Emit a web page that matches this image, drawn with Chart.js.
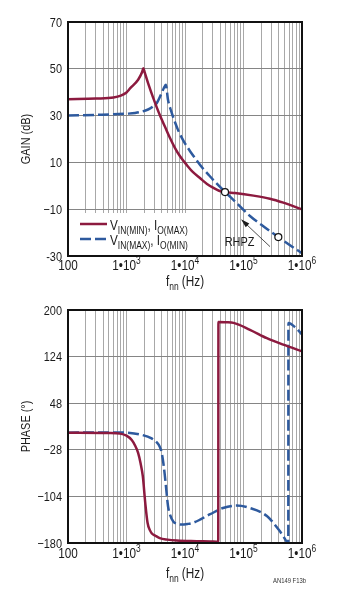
<!DOCTYPE html>
<html>
<head>
<meta charset="utf-8">
<script src="https://cdn.jsdelivr.net/npm/chart.js@4.4.1/dist/chart.umd.min.js"></script>
<style>
  html, body { margin: 0; padding: 0; background: #fff; }
  #page { position: relative; width: 340px; height: 597px; overflow: hidden; }
  .box { position: absolute; left: 0; width: 340px; }
  #gainBox { top: 0; height: 298px; }
  #phaseBox { top: 298px; height: 299px; }
</style>
</head>
<body>
<div id="page">
  <div class="box" id="gainBox"><canvas id="gainChart"></canvas></div>
  <div class="box" id="phaseBox"><canvas id="phaseChart"></canvas></div>
</div>
<script>
const FONT = '"Liberation Sans", Arial, sans-serif';
const NARROW = 0.84;   // horizontal squeeze for a condensed look
const INK = '#1b1b1b';
const RED = '#8c1a3f';
const BLUE = '#2e5a9e';

// frequency axis, shared by both plots
const freqTicks = [100, 1e3, 1e4, 1e5, 1e6];
const freqTickLabels = ['100', '1\u202210^{3}', '1\u202210^{4}', '1\u202210^{5}', '1\u202210^{6}'];
const freqTitle = 'f_{nn} (Hz)';

const gainTicks = [-30, -10, 10, 30, 50, 70];
const gainTickLabels = ['-30', '\u221210', '10', '30', '50', '70'];
const phaseTicks = [-180, -104, -28, 48, 124, 200];
const phaseTickLabels = ['\u2212180', '\u2212104', '\u221228', '48', '124', '200'];

const seriesNames = ['V_{IN(MIN)}, I_{O(MAX)}', 'V_{IN(MAX)}, I_{O(MIN)}'];

// loop gain, VIN(MIN) / IO(MAX)
const gainFreqA = [100, 300, 600, 800, 1000, 1150, 1580, 1850, 1940, 2040, 2400, 2840, 3740, 4550, 5540, 6750,
  8220, 10800, 13700, 18000, 23800, 30100, 38100, 48300, 71600, 148000, 282000, 479000, 1000000];
const gainA = [37.0, 37.3, 37.7, 38.5, 39.9, 41.6, 45.3, 48.6, 50.2, 48.6, 43.0, 37.8, 30.0, 25.2, 20.4, 16.1,
  12.6, 8.8, 5.8, 3.3, 0.8, -0.8, -2.1, -2.7, -3.1, -4.2, -5.5, -7.2, -10.1];

// loop gain, VIN(MAX) / IO(MIN)
const gainFreqB = [100, 300, 1000, 1400, 2340, 2800, 3300, 4000, 4350, 4700, 5120, 5770, 6490, 7590, 8880,
  10400, 12200, 15400, 19500, 24700, 32600, 48300, 71600, 129000, 233000, 394000, 624000, 1000000];
const gainB = [30.0, 30.3, 30.8, 31.1, 32.6, 33.8, 35.4, 39.7, 41.8, 43.2, 36.8, 32.1, 28.3, 23.9, 20.4,
  17.4, 14.8, 11.3, 7.9, 5.0, 1.7, -2.6, -6.7, -12.9, -17.8, -21.9, -25.4, -28.8];

// crossover point and right half plane zero
const markerFreq = [48300, 394000];
const markerGain = [-2.7, -21.9];
const rhpzLabel = [85500, -25.7];
const arrowTail = [284000, -26.0];
const arrowTip = [90600, -14.3];

// phase, VIN(MIN) / IO(MAX)
const phaseFreqA = [100, 500, 776, 1000, 1230, 1400, 1580, 1740, 1900, 2090, 2290, 2510, 2690, 3160, 3700, 5000,
  7240, 15800, 27000, 37000, 37300, 50000, 67600, 129000, 251000, 479000, 1000000];
const phaseA = [0, -0.5, -1.6, -5, -12, -21, -33, -50, -71, -114, -147, -159, -164, -168.5, -172, -174.5,
  -176, -177, -177.5, -178, 180.5, 180, 179, 167.7, 154, 143.4, 132.5];

// phase, VIN(MAX) / IO(MIN)
const phaseFreqB = [100, 800, 1000, 1700, 2690, 3300, 3700, 4000, 4270, 4500, 4730, 5130, 5600, 6300, 7500, 8700,
  11000, 13800, 26900, 44700, 75900, 129000, 251000, 398000, 480000, 550000, 583000, 586000, 800000, 1000000];
const phaseB = [0, 0.3, 0, -3, -9.5, -16, -23, -33, -50, -68, -88, -120, -135, -145, -149, -150,
  -149, -147, -133, -123, -119, -123, -136, -158, -169, -178, -180, 179, 170, 160];

// 1..9 per decade for the log grid
const gridFreqs = [];
for (let d = 100; d < 1e6; d *= 10) for (let m = 1; m < 10; m++) gridFreqs.push(d * m);
gridFreqs.push(1e6);

const toPoints = (xs, ys) => xs.map((x, i) => ({ x: x, y: ys[i] }));

// text with _{sub} and ^{sup} runs
function richParts(str) {
  const parts = [];
  const re = /([_^])\{([^}]*)\}/g;
  let last = 0, m;
  while ((m = re.exec(str))) {
    if (m.index > last) parts.push({ t: str.slice(last, m.index), k: '' });
    parts.push({ t: m[2], k: m[1] });
    last = re.lastIndex;
  }
  if (last < str.length) parts.push({ t: str.slice(last), k: '' });
  return parts;
}

// draws squeezed text; align is left / center / right, mid centres it vertically
function drawRich(ctx, str, x, y, size, align, mid) {
  const parts = richParts(str);
  const fontFor = p => (p.k ? size * 0.72 : size) + 'px ' + FONT;
  let w = 0;
  for (const p of parts) { ctx.font = fontFor(p); p.w = ctx.measureText(p.t).width; w += p.w; }
  let cx = align === 'center' ? -w / 2 : align === 'right' ? -w : 0;
  ctx.save();
  ctx.translate(x, y + (mid ? size * 0.36 : 0));
  ctx.scale(NARROW, 1);
  ctx.textAlign = 'left';
  ctx.textBaseline = 'alphabetic';
  for (const p of parts) {
    ctx.font = fontFor(p);
    const dy = p.k === '_' ? size * 0.26 : p.k === '^' ? -size * 0.4 : 0;
    ctx.fillText(p.t, cx, dy);
    cx += p.w;
  }
  ctx.restore();
}

const decor = {
  id: 'decor',
  beforeDatasetsDraw(chart, args, opts) {
    if (!opts.legend) return;
    const { ctx, chartArea: a } = chart;
    ctx.save();
    ctx.fillStyle = '#fff';
    ctx.fillRect(a.left, a.bottom - 43, 132, 43);
    ctx.restore();
  },
  afterDraw(chart, args, opts) {
    const { ctx, chartArea: a } = chart;
    const xs = chart.scales.x, ys = chart.scales.y;
    const px = f => xs.getPixelForValue(f), py = v => ys.getPixelForValue(v);
    ctx.save();

    ctx.strokeStyle = '#111';
    ctx.lineWidth = 2;
    ctx.strokeRect(a.left, a.top, a.right - a.left, a.bottom - a.top);

    ctx.fillStyle = INK;
    freqTicks.forEach((f, i) => drawRich(ctx, freqTickLabels[i], px(f), a.bottom + opts.tickGap, 14, 'center'));
    drawRich(ctx, freqTitle, (a.left + a.right) / 2, a.bottom + opts.titleGap, 14, 'center');

    opts.yTicks.forEach((v, i) => drawRich(ctx, opts.yLabels[i], a.left - 6, py(v), 13, 'right', true));
    ctx.save();
    ctx.translate(25, (a.top + a.bottom) / 2);
    ctx.rotate(-Math.PI / 2);
    drawRich(ctx, opts.yTitle, 0, 0, 13, 'center', true);
    ctx.restore();

    if (opts.legend) {
      seriesNames.forEach((name, i) => {
        const ly = a.bottom - 32 + i * 15;
        ctx.strokeStyle = i ? BLUE : RED;
        ctx.lineWidth = 2.5;
        ctx.setLineDash(i ? [11, 4] : []);
        ctx.beginPath();
        ctx.moveTo(a.left + 12, ly);
        ctx.lineTo(a.left + 39, ly);
        ctx.stroke();
        ctx.setLineDash([]);
        ctx.fillStyle = INK;
        drawRich(ctx, name, a.left + 42, ly + 6, 14, 'left');
      });
    }

    if (opts.rhpz) {
      ctx.fillStyle = INK;
      drawRich(ctx, 'RHPZ', px(rhpzLabel[0]), py(rhpzLabel[1]), 13, 'center');
      const x0 = px(arrowTail[0]), y0 = py(arrowTail[1]);
      const x1 = px(arrowTip[0]), y1 = py(arrowTip[1]);
      const ang = Math.atan2(y1 - y0, x1 - x0);
      ctx.strokeStyle = '#222';
      ctx.lineWidth = 0.8;
      ctx.beginPath();
      ctx.moveTo(x0, y0);
      ctx.lineTo(x1 - 6 * Math.cos(ang), y1 - 6 * Math.sin(ang));
      ctx.stroke();
      const bx = x1 - 9 * Math.cos(ang), by = y1 - 9 * Math.sin(ang);
      ctx.beginPath();
      ctx.moveTo(x1, y1);
      ctx.lineTo(bx + 2.6 * Math.sin(ang), by - 2.6 * Math.cos(ang));
      ctx.lineTo(bx - 2.6 * Math.sin(ang), by + 2.6 * Math.cos(ang));
      ctx.closePath();
      ctx.fill();
    }

    if (opts.note) {
      ctx.fillStyle = '#333';
      drawRich(ctx, 'AN149 F13b', a.right - 29, a.bottom + 40, 7, 'left');
    }
    ctx.restore();
  }
};

function freqAxis(h) {
  return {
    type: 'logarithmic',
    min: 100,
    max: 1e6,
    afterBuildTicks: s => { s.ticks = gridFreqs.map(v => ({ value: v })); },
    afterFit: s => { s.height = h; },
    ticks: { display: false, autoSkip: false },
    grid: { color: '#a8a8a8', lineWidth: 1, drawTicks: false },
    border: { display: false }
  };
}

function valueAxis(min, max, ticks) {
  return {
    min: min,
    max: max,
    afterBuildTicks: s => { s.ticks = ticks.map(v => ({ value: v })); },
    afterFit: s => { s.width = 68; },
    ticks: { display: false, autoSkip: false },
    grid: { color: '#858585', lineWidth: 1, drawTicks: false },
    border: { display: false }
  };
}

function curve(xs, ys, color, dashed) {
  return {
    data: toPoints(xs, ys),
    borderColor: color,
    borderWidth: 2.5,
    borderDash: dashed ? [11, 4] : [],
    pointRadius: 0,
    cubicInterpolationMode: 'monotone',
    fill: false
  };
}

const common = {
  responsive: true,
  maintainAspectRatio: false,
  animation: false,
  events: []
};

new Chart(document.getElementById('gainChart'), {
  type: 'line',
  data: {
    datasets: [
      curve(gainFreqA, gainA, RED, false),
      curve(gainFreqB, gainB, BLUE, true),
      {
        data: toPoints(markerFreq, markerGain),
        showLine: false,
        pointRadius: 3.5,
        pointBackgroundColor: '#fff',
        pointBorderColor: '#111',
        pointBorderWidth: 1.2,
        order: -1
      }
    ]
  },
  options: Object.assign({}, common, {
    layout: { padding: { top: 22, right: 38, left: 0, bottom: 0 } },
    plugins: {
      legend: { display: false },
      tooltip: { enabled: false },
      decor: {
        tickGap: 14, titleGap: 30, legend: true, rhpz: true,
        yTicks: gainTicks, yLabels: gainTickLabels, yTitle: 'GAIN (dB)'
      }
    },
    scales: {
      x: freqAxis(42),
      y: valueAxis(-30, 70, gainTicks)
    }
  }),
  plugins: [decor]
});

new Chart(document.getElementById('phaseChart'), {
  type: 'line',
  data: {
    datasets: [
      curve(phaseFreqA, phaseA, RED, false),
      curve(phaseFreqB, phaseB, BLUE, true)
    ]
  },
  options: Object.assign({}, common, {
    layout: { padding: { top: 12, right: 38, left: 0, bottom: 0 } },
    plugins: {
      legend: { display: false },
      tooltip: { enabled: false },
      decor: {
        tickGap: 15, titleGap: 35, note: true,
        yTicks: phaseTicks, yLabels: phaseTickLabels, yTitle: 'PHASE (\u00b0)'
      }
    },
    scales: {
      x: freqAxis(54),
      y: valueAxis(-180, 200, phaseTicks)
    }
  }),
  plugins: [decor]
});
</script>
</body>
</html>
